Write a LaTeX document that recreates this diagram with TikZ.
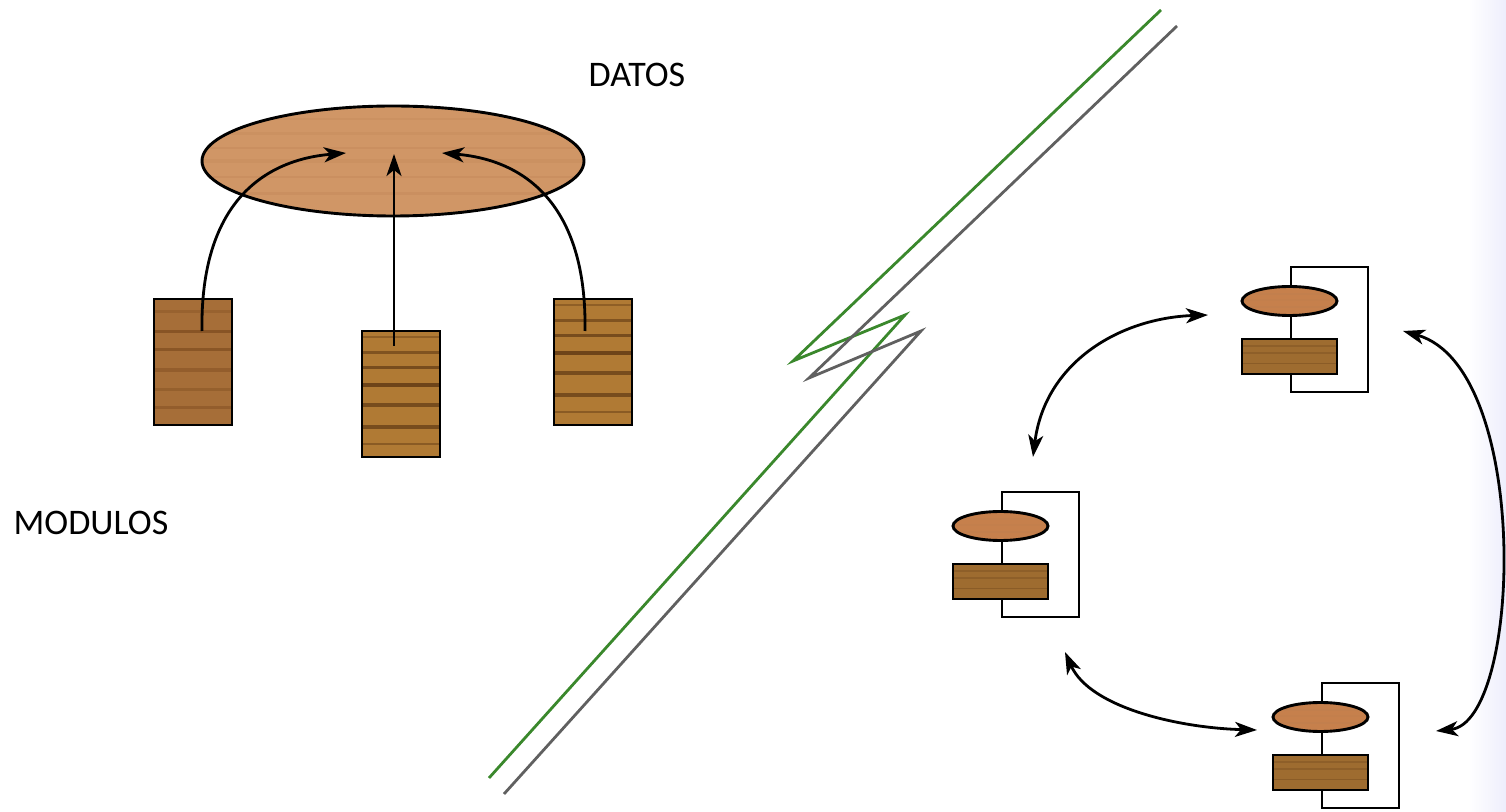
\documentclass[tikz,border=0pt]{standalone}
\usepackage{fontspec}
\setmainfont{Carlito}
\usetikzlibrary{arrows.meta,shapes.geometric,calc}
\definecolor{ellwood}{RGB}{208,150,102}
\definecolor{ellhi}{RGB}{224,168,120}
\definecolor{ellsh}{RGB}{186,126,80}
\definecolor{woodA}{RGB}{166,110,56}
\definecolor{woodAd}{RGB}{112,64,22}
\definecolor{woodAl}{RGB}{190,140,80}
\definecolor{woodB}{RGB}{176,122,52}
\definecolor{woodBd}{RGB}{82,46,14}
\definecolor{smallell}{RGB}{198,128,76}
\definecolor{smallrect}{RGB}{158,108,48}
\definecolor{zgreen}{RGB}{58,136,44}
\definecolor{zgray}{RGB}{96,96,96}
\definecolor{edgeblue}{RGB}{238,238,252}
\tikzset{
  stripes/.style n args={2}{path picture={
    \coordinate (pb1) at (path picture bounding box.south west);
    \coordinate (pb2) at (path picture bounding box.north east);
    \foreach \f/\w/\o in {#2}{\draw[#1, line width=\w, opacity=\o]
      ($(pb1)!\f!(pb1|-pb2)$) -- ($(pb1-|pb2)!\f!(pb2)$);}
  }},
  outl/.style={draw=black, line width=1.45pt},
  bigell/.style={outl, ellipse, fill=ellwood, minimum width=191pt, minimum height=55pt, inner sep=0pt,
    stripes={ellsh}{0.2/1.5pt/0.25,0.35/1pt/0.25,0.5/2pt/0.2,0.62/1pt/0.25,0.75/1.5pt/0.2,0.88/1pt/0.2}},
  modA/.style={outl, rectangle, fill=woodA, minimum width=39pt, minimum height=63pt, inner sep=0pt,
    stripes={woodAd}{0.14/1.5pt/0.35,0.28/1.5pt/0.3,0.44/2pt/0.35,0.60/1.5pt/0.5,0.74/1.5pt/0.55,0.9/1.5pt/0.25}},
  modB/.style={outl, rectangle, fill=woodB, minimum width=39pt, minimum height=63pt, inner sep=0pt,
    stripes={woodBd}{0.1/1pt/0.4,0.24/1.8pt/0.6,0.41/2pt/0.6,0.57/1.8pt/0.7,0.71/1.5pt/0.6,0.83/1.2pt/0.5,0.95/1pt/0.35}},
  frm/.style={outl, rectangle, minimum width=38.5pt, minimum height=62.5pt, inner sep=0pt},
  sell/.style={outl, ellipse, fill=smallell, minimum width=47.5pt, minimum height=14.5pt, inner sep=0pt,
    stripes={ellsh}{0.3/1pt/0.25,0.55/1pt/0.2,0.75/0.8pt/0.25}},
  srect/.style={outl, rectangle, fill=smallrect, minimum width=47.5pt, minimum height=17.5pt, inner sep=0pt,
    stripes={woodBd}{0.3/0.8pt/0.25,0.6/0.6pt/0.2,0.8/0.8pt/0.2}},
  arr/.style={line width=1.4pt, -{Stealth[length=11pt,width=7.5pt,inset=3pt]}},
  darr/.style={line width=1.4pt, {Stealth[length=11pt,width=7.5pt,inset=3pt]}-{Stealth[length=11pt,width=7.5pt,inset=3pt]}},
  zig/.style={line width=1.4pt, line join=miter},
  lbl/.style={font=\fontsize{18}{22}\selectfont, inner sep=0pt},
}
\begin{document}
\begin{tikzpicture}[x=0.5pt,y=-0.5pt]
\useasboundingbox (0,0) rectangle (1506,812);
\shade[left color=white, right color=edgeblue, draw=none] (1468,0) rectangle (1506,812);

% labels
\node[lbl] (datos) at (637,75) {DATOS};
\node[lbl] (modulos) at (91,523) {MODULOS};

% left: data ellipse and modules
\node[bigell] (data) at (393,161) {};
\node[modA] (m1) at (193,362) {};
\node[modB] (m2) at (401,394) {};
\node[modB] (m3) at (593,362) {};

\coordinate (s1) at (202,331);
\coordinate (t1) at (346,153);
\coordinate (s2) at (394,346);
\coordinate (t2) at (394,154);
\coordinate (s3) at (585,331);
\coordinate (t3) at (442,153);
\draw[arr] (s1) .. controls (200,205) and (262,160) .. (t1);
\draw[arr] (s2) -- (t2);
\draw[arr] (s3) .. controls (587,205) and (525,160) .. (t3);

% zigzag separator
\coordinate (g1) at (1161,10);
\coordinate (g2) at (793,361);
\coordinate (g3) at (905,315);
\coordinate (g4) at (489,778);
\coordinate (h1) at (1177,26);
\coordinate (h2) at (809,378);
\coordinate (h3) at (921,331);
\coordinate (h4) at (504,794);
\draw[zig, zgreen] (g1) -- (g2) -- (g3) -- (g4);
\draw[zig, zgray] (h1) -- (h2) -- (h3) -- (h4);

% right: modules with their own data
\foreach \L/\T/\n in {1291/267/a,1002/492/b,1322/683/c}{
  \node[frm] (frame\n) at (\L+38.5,\T+62.5) {};
  \node[sell] (ell\n) at (\L-1.5,\T+34) {};
  \node[srect] (box\n) at (\L-1.5,\T+89.5) {};
}

\coordinate (p1) at (1033,457);
\coordinate (p2) at (1208,315);
\coordinate (q1) at (1065,652);
\coordinate (q2) at (1257,730);
\coordinate (r1) at (1403,331);
\coordinate (r2) at (1436,731);
\draw[darr] (p1) .. controls (1045,362) and (1120,318) .. (p2);
\draw[darr] (q1) .. controls (1090,708) and (1180,728) .. (q2);
\draw[darr] (r1) .. controls (1532,368) and (1522,722) .. (r2);
\end{tikzpicture}
\end{document}
